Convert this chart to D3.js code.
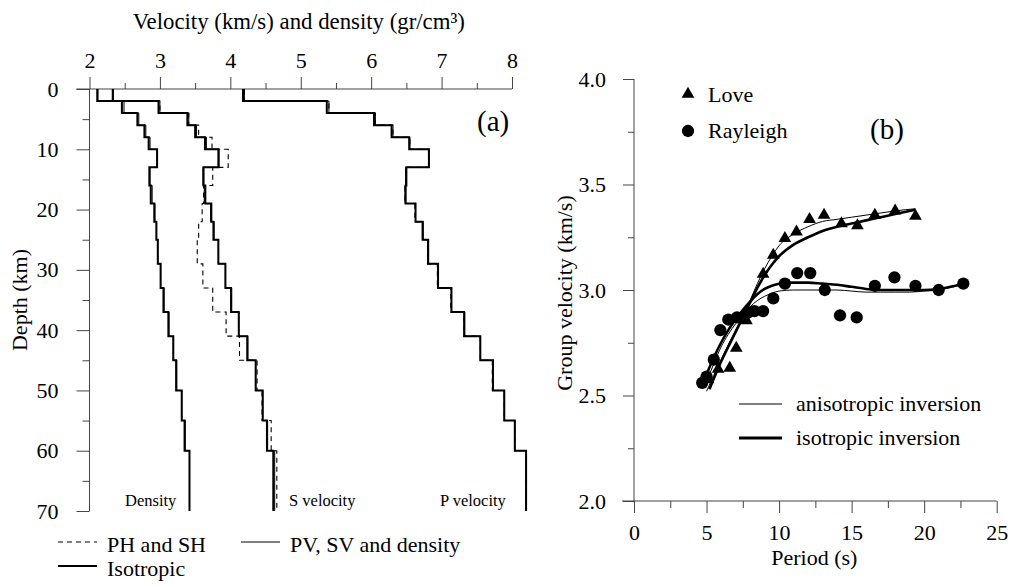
<!DOCTYPE html>
<html>
<head>
<meta charset="utf-8">
<script src="https://cdn.jsdelivr.net/npm/d3@7"></script>
<style>
  body { margin: 0; background: #fff; }
  text { font-family: "Liberation Serif", "Times New Roman", serif; fill: #000; }
</style>
</head>
<body>
<div id="chart"></div>
<script>
// ---- panel (a): layered model, depth of layer tops in km ----
let layerTops = [0, 2, 4, 6, 8, 10, 13, 16, 19, 22, 25, 29, 33, 37, 41, 45, 50, 55, 60];
let modelBottom = 70;

// isotropic model
let isoP   = [4.18, 5.37, 6.04, 6.29, 6.54, 6.82, 6.50, 6.49, 6.63, 6.73, 6.81, 6.95, 7.14, 7.32, 7.55, 7.73, 7.89, 8.04, 8.20];
let isoS   = [2.33, 2.98, 3.39, 3.50, 3.64, 3.83, 3.62, 3.645, 3.73, 3.76, 3.83, 3.93, 4.01, 4.12, 4.24, 4.36, 4.46, 4.52, 4.61];
let isoRho = [2.11, 2.46, 2.68, 2.78, 2.84, 2.96, 2.85, 2.87, 2.92, 2.95, 2.97, 3.01, 3.05, 3.12, 3.19, 3.23, 3.31, 3.35, 3.42];

// anisotropic model, vertical (PV, SV, density)
let pv     = [4.20, 5.40, 6.06, 6.31, 6.55, 6.82, 6.49, 6.48, 6.63, 6.74, 6.80, 6.95, 7.14, 7.33, 7.55, 7.73, 7.89, 8.04, 8.20];
let sv     = [2.34, 3.00, 3.41, 3.52, 3.66, 3.84, 3.61, 3.63, 3.72, 3.77, 3.83, 3.93, 4.02, 4.12, 4.25, 4.36, 4.46, 4.53, 4.63];
let rhoAn  = [2.12, 2.49, 2.70, 2.80, 2.86, 2.96, 2.86, 2.89, 2.93, 2.95, 2.97, 3.01, 3.06, 3.13, 3.19, 3.24, 3.31, 3.36, 3.42];

// anisotropic model, horizontal (PH, SH)
let ph     = [4.20, 5.40, 6.06, 6.31, 6.55, 6.82, 6.49, 6.48, 6.62, 6.73, 6.80, 6.94, 7.13, 7.32, 7.55, 7.72, 7.89, 8.04, 8.20];
let sh     = [2.34, 3.00, 3.41, 3.55, 3.74, 3.97, 3.75, 3.62, 3.60, 3.55, 3.53, 3.61, 3.75, 3.94, 4.13, 4.38, 4.45, 4.58, 4.66];

let velTicks = [2, 3, 4, 5, 6, 7, 8];
let velMinor = [2.5, 3.5, 4.5, 5.5, 6.5, 7.5];
let depthTicks = [0, 10, 20, 30, 40, 50, 60, 70];
let depthMinor = [5, 15, 25, 35, 45, 55, 65];

// ---- panel (b): group velocity dispersion ----
let lovePeriod = [5.1, 5.8, 6.6, 7.05, 7.75, 8.9, 9.6, 10.4, 11.2, 12.1, 13.1, 14.3, 15.4, 16.6, 18.0, 19.4];
let loveVel    = [2.58, 2.63, 2.635, 2.73, 2.86, 3.08, 3.17, 3.25, 3.28, 3.34, 3.36, 3.32, 3.31, 3.36, 3.38, 3.355];

let rayPeriod = [4.7, 5.0, 5.5, 5.95, 6.5, 7.1, 7.8, 8.3, 8.9, 9.6, 10.4, 11.25, 12.15, 13.15, 14.2, 15.35, 16.6, 17.95, 19.4, 21.0, 22.7];
let rayVel    = [2.56, 2.59, 2.67, 2.81, 2.86, 2.87, 2.89, 2.90, 2.90, 2.96, 3.03, 3.08, 3.08, 3.00, 2.88, 2.87, 3.02, 3.06, 3.02, 3.00, 3.03];

let loveAnT = [5.0, 6.0, 7.0, 8.0, 8.5, 9.0, 9.5, 10, 11, 12, 13, 14, 15, 16, 17, 18, 19.4];
let loveAnV = [2.52, 2.67, 2.81, 2.95, 3.03, 3.10, 3.16, 3.21, 3.265, 3.30, 3.325, 3.335, 3.345, 3.355, 3.365, 3.375, 3.385];
let loveIsoT = [5.2, 6.0, 7.0, 8.0, 8.5, 9.0, 9.5, 10, 11, 12, 13, 14, 15, 16, 17, 18, 19.4];
let loveIsoV = [2.53, 2.66, 2.80, 2.94, 3.01, 3.07, 3.12, 3.16, 3.215, 3.25, 3.28, 3.30, 3.315, 3.33, 3.345, 3.36, 3.38];

let rayIsoT = [4.7, 5.0, 5.5, 6.0, 6.5, 7.0, 7.5, 8.0, 8.5, 9.0, 9.5, 10, 11, 12, 13, 14, 15, 16, 17, 18, 19, 20, 21, 22, 22.7];
let rayIsoV = [2.55, 2.60, 2.68, 2.75, 2.81, 2.86, 2.905, 2.945, 2.98, 3.005, 3.02, 3.03, 3.035, 3.035, 3.03, 3.025, 3.015, 3.005, 3.0, 3.0, 3.0, 3.0, 3.005, 3.018, 3.028];
let rayAnT = [4.9, 5.5, 6.0, 6.5, 7.0, 7.5, 8.0, 8.5, 9.0, 9.5, 10, 11, 12, 13, 14, 15, 16, 17, 18, 19, 20, 21, 22, 22.7];
let rayAnV = [2.55, 2.65, 2.73, 2.79, 2.84, 2.88, 2.92, 2.95, 2.97, 2.985, 2.995, 3.0, 3.0, 3.0, 3.0, 2.995, 2.99, 2.99, 2.99, 2.99, 2.995, 3.0, 3.015, 3.028];

let periodTicks = [0, 5, 10, 15, 20, 25];
let periodMinor = [2.5, 7.5, 12.5, 17.5, 22.5];
let gvTicks = [2.0, 2.5, 3.0, 3.5, 4.0];
let gvMinor = [2.25, 2.75, 3.25, 3.75];

const W = 1013, H = 587;
const axisCol = "#444";

var svg = d3.select("#chart").append("svg")
    .attr("width", W)
    .attr("height", H);

svg.append("rect").attr("width", W).attr("height", H).attr("fill", "#fff");

function styleAxis(g, fs) {
    g.select(".domain").remove();
    g.selectAll(".tick line").attr("stroke", axisCol);
    g.selectAll(".tick text")
        .style("font-family", '"Liberation Serif", "Times New Roman", serif')
        .style("font-size", fs + "px")
        .attr("fill", "#000");
}

// ================= panel (a) =================
const xV = d3.scaleLinear().domain([2, 8]).range([89.5, 512]);
const yD = d3.scaleLinear().domain([0, 70]).range([89, 511]);

var gA = svg.append("g");

// axes
gA.append("g")
    .attr("transform", "translate(0," + yD(0) + ")")
    .call(d3.axisTop(xV).tickValues(velTicks).tickSize(12).tickPadding(9).tickFormat(d3.format("d")))
    .call(g => styleAxis(g, 22));
gA.append("g")
    .attr("transform", "translate(0," + yD(0) + ")")
    .call(d3.axisTop(xV).tickValues(velMinor).tickSize(6).tickFormat(""))
    .call(g => styleAxis(g, 22));
gA.append("g")
    .attr("transform", "translate(" + xV(2) + ",0)")
    .call(d3.axisLeft(yD).tickValues(depthTicks).tickSize(13).tickPadding(18).tickFormat(d3.format("d")))
    .call(g => styleAxis(g, 22));
gA.append("g")
    .attr("transform", "translate(" + xV(2) + ",0)")
    .call(d3.axisLeft(yD).tickValues(depthMinor).tickSize(7).tickFormat(""))
    .call(g => styleAxis(g, 22));

gA.append("line")
    .attr("x1", xV(2) - 13).attr("x2", xV(8))
    .attr("y1", yD(0)).attr("y2", yD(0))
    .attr("stroke", axisCol);
gA.append("line")
    .attr("x1", xV(2)).attr("x2", xV(2))
    .attr("y1", yD(0)).attr("y2", yD(70))
    .attr("stroke", axisCol);

gA.append("text")
    .attr("x", (xV(2) + xV(8)) / 2 - 2).attr("y", 29)
    .attr("text-anchor", "middle")
    .style("font-size", "22.8px")
    .text("Velocity (km/s) and density (gr/cm³)");

gA.append("text")
    .attr("transform", "translate(27," + ((yD(0) + yD(70)) / 2) + ") rotate(-90)")
    .attr("text-anchor", "middle")
    .style("font-size", "22px")
    .text("Depth (km)");

// step profiles
function stepPoints(vals) {
    let pts = [];
    vals.forEach(function (v, i) {
        let top = layerTops[i];
        let bot = i < vals.length - 1 ? layerTops[i + 1] : modelBottom;
        pts.push([v, top], [v, bot]);
    });
    return pts;
}

var stepLine = d3.line()
    .x(function (d) { return xV(d[0]); })
    .y(function (d) { return yD(d[1]); });

var profiles = [
    {vals: ph, w: 1.1, dash: "5,4"},
    {vals: sh, w: 1.1, dash: "5,4"},
    {vals: pv, w: 1, dash: null},
    {vals: sv, w: 1, dash: null},
    {vals: rhoAn, w: 1, dash: null},
    {vals: isoP, w: 2, dash: null},
    {vals: isoS, w: 2, dash: null},
    {vals: isoRho, w: 2, dash: null}
];

gA.append("g").selectAll("path")
    .data(profiles)
    .enter().append("path")
    .attr("d", function (d) { return stepLine(stepPoints(d.vals)); })
    .attr("fill", "none")
    .attr("stroke", "#000")
    .attr("stroke-width", function (d) { return d.w; })
    .attr("stroke-dasharray", function (d) { return d.dash; });

// labels in plot
[["Density", 125], ["S velocity", 289], ["P velocity", 440]].forEach(function (l) {
    gA.append("text")
        .attr("x", l[1]).attr("y", 506)
        .style("font-size", "16.5px")
        .text(l[0]);
});

gA.append("text")
    .attr("x", 477).attr("y", 131)
    .style("font-size", "29px")
    .text("(a)");

// legend (a)
var legA = [
    {x: 58, y: 542, w: 1.1, dash: "5,4", label: "PH and SH"},
    {x: 241, y: 542, w: 1, dash: null, label: "PV, SV and density"},
    {x: 58, y: 566, w: 2, dash: null, label: "Isotropic"}
];
legA.forEach(function (d) {
    gA.append("line")
        .attr("x1", d.x).attr("x2", d.x + 39)
        .attr("y1", d.y).attr("y2", d.y)
        .attr("stroke", "#000")
        .attr("stroke-width", d.w)
        .attr("stroke-dasharray", d.dash);
    gA.append("text")
        .attr("x", d.x + 49).attr("y", d.y + 10)
        .style("font-size", "22px")
        .text(d.label);
});

// ================= panel (b) =================
const xP = d3.scaleLinear().domain([0, 25]).range([634, 996.7]);
const yG = d3.scaleLinear().domain([2, 4]).range([501, 79]);

var gB = svg.append("g");

gB.append("g")
    .attr("transform", "translate(0," + yG(2) + ")")
    .call(d3.axisBottom(xP).tickValues(periodTicks).tickSize(12).tickPadding(11).tickFormat(d3.format("d")))
    .call(g => styleAxis(g, 22));
gB.append("g")
    .attr("transform", "translate(0," + yG(2) + ")")
    .call(d3.axisBottom(xP).tickValues(periodMinor).tickSize(7).tickFormat(""))
    .call(g => styleAxis(g, 22));
gB.append("g")
    .attr("transform", "translate(" + xP(0) + ",0)")
    .call(d3.axisLeft(yG).tickValues(gvTicks).tickSize(11).tickPadding(17).tickFormat(d3.format(".1f")))
    .call(g => styleAxis(g, 22));
gB.append("g")
    .attr("transform", "translate(" + xP(0) + ",0)")
    .call(d3.axisLeft(yG).tickValues(gvMinor).tickSize(6).tickFormat(""))
    .call(g => styleAxis(g, 22));

gB.append("line")
    .attr("x1", xP(0) - 12).attr("x2", xP(25))
    .attr("y1", yG(2)).attr("y2", yG(2))
    .attr("stroke", axisCol);
gB.append("line")
    .attr("x1", xP(0)).attr("x2", xP(0))
    .attr("y1", yG(4)).attr("y2", yG(2))
    .attr("stroke", axisCol);

gB.append("text")
    .attr("x", xP(12.5) - 1).attr("y", 565)
    .attr("text-anchor", "middle")
    .style("font-size", "22px")
    .text("Period (s)");

gB.append("text")
    .attr("transform", "translate(572,293) rotate(-90)")
    .attr("text-anchor", "middle")
    .style("font-size", "22px")
    .text("Group velocity (km/s)");

// dispersion curves
var curve = d3.line()
    .curve(d3.curveMonotoneX)
    .x(function (d) { return xP(d[0]); })
    .y(function (d) { return yG(d[1]); });

var curves = [
    {t: loveAnT, v: loveAnV, w: 1},
    {t: rayAnT, v: rayAnV, w: 1},
    {t: loveIsoT, v: loveIsoV, w: 2.6},
    {t: rayIsoT, v: rayIsoV, w: 2.6}
];

gB.append("g").selectAll("path")
    .data(curves)
    .enter().append("path")
    .attr("d", function (d) { return curve(d3.zip(d.t, d.v)); })
    .attr("fill", "none")
    .attr("stroke", "#000")
    .attr("stroke-width", function (d) { return d.w; });

var tri = d3.symbol().type(d3.symbolTriangle).size(70);
var circ = d3.symbol().type(d3.symbolCircle).size(118);

gB.append("g").selectAll("path")
    .data(d3.zip(lovePeriod, loveVel))
    .enter().append("path")
    .attr("d", tri)
    .attr("transform", function (d) { return "translate(" + xP(d[0]) + "," + (yG(d[1]) + 1) + ")"; })
    .attr("fill", "#000");

gB.append("g").selectAll("path")
    .data(d3.zip(rayPeriod, rayVel))
    .enter().append("path")
    .attr("d", circ)
    .attr("transform", function (d) { return "translate(" + xP(d[0]) + "," + yG(d[1]) + ")"; })
    .attr("fill", "#000");

// legend (b)
gB.append("path").attr("d", tri).attr("transform", "translate(688,94)").attr("fill", "#000");
gB.append("text").attr("x", 708).attr("y", 102).style("font-size", "22px").text("Love");
gB.append("path").attr("d", circ).attr("transform", "translate(688,131)").attr("fill", "#000");
gB.append("text").attr("x", 708).attr("y", 138).style("font-size", "22px").text("Rayleigh");

gB.append("text")
    .attr("x", 870).attr("y", 139)
    .style("font-size", "29px")
    .text("(b)");

[{y: 404, w: 1, label: "anisotropic inversion"}, {y: 438, w: 3, label: "isotropic inversion"}].forEach(function (d) {
    gB.append("line")
        .attr("x1", 739).attr("x2", 782)
        .attr("y1", d.y).attr("y2", d.y)
        .attr("stroke", "#000")
        .attr("stroke-width", d.w);
    gB.append("text")
        .attr("x", 796).attr("y", d.y + 7)
        .style("font-size", "22px")
        .text(d.label);
});
</script>
</body>
</html>
